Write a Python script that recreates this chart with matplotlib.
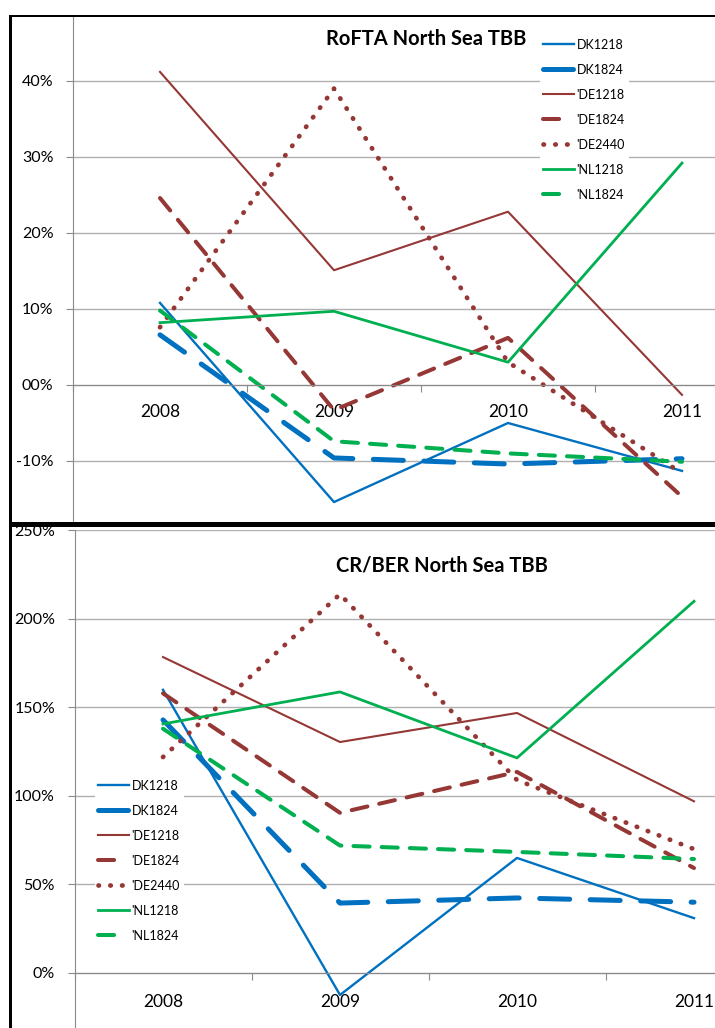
import matplotlib
matplotlib.use("Agg")
import matplotlib.pyplot as plt
from matplotlib.patches import Rectangle
from matplotlib.lines import Line2D

plt.rcParams['font.family'] = ['Lato', 'DejaVu Sans']

# ---------------- data ----------------
years = ["2008", "2009", "2010", "2011"]
series_names = ["DK1218", "DK1824", "'DE1218", "'DE1824", "'DE2440", "'NL1218", "'NL1824"]

rofta_dk1218 = [0.108, -0.154, -0.050, -0.113]
rofta_dk1824 = [0.066, -0.096, -0.104, -0.097]
rofta_de1218 = [0.412, 0.151, 0.228, -0.013]
rofta_de1824 = [0.246, -0.033, 0.062, -0.147]
rofta_de2440 = [0.076, 0.390, 0.030, -0.116]
rofta_nl1218 = [0.082, 0.097, 0.030, 0.292]
rofta_nl1824 = [0.098, -0.074, -0.090, -0.101]

crber_dk1218 = [1.60, -0.124, 0.65, 0.31]
crber_dk1824 = [1.43, 0.395, 0.424, 0.40]
crber_de1218 = [1.785, 1.305, 1.469, 0.97]
crber_de1824 = [1.58, 0.905, 1.136, 0.593]
crber_de2440 = [1.22, 2.14, 1.09, 0.70]
crber_nl1218 = [1.407, 1.588, 1.215, 2.10]
crber_nl1824 = [1.38, 0.72, 0.684, 0.644]

rofta_yticks = [-0.1, 0.0, 0.1, 0.2, 0.3, 0.4]
rofta_yticklabels = ["-10%", "00%", "10%", "20%", "30%", "40%"]
crber_yticks = [0.0, 0.5, 1.0, 1.5, 2.0, 2.5]
crber_yticklabels = ["0%", "50%", "100%", "150%", "200%", "250%"]

rofta_title = "RoFTA North Sea TBB"
crber_title = "CR/BER North Sea TBB"

# ---------------- styles ----------------
BLUE, RED, GREEN = "#0070C0", "#953735", "#00B050"
styles = [
    dict(color=BLUE, lw=1.7),
    dict(color=BLUE, lw=3.6, dashes=(6, 4.1), dash_capstyle='round'),
    dict(color=RED, lw=1.5),
    dict(color=RED, lw=2.9, dashes=(4, 3), dash_capstyle='round'),
    dict(color=RED, lw=3.4, dashes=(0.1, 2.4), dash_capstyle='round'),
    dict(color=GREEN, lw=2.0),
    dict(color=GREEN, lw=2.9, dashes=(4, 3), dash_capstyle='round'),
]
# legend swatches: same look, but the short dashes show as a single dash
legend_styles = [dict(st) for st in styles]
legend_styles[3]['dashes'] = (4, 4.5)
legend_styles[6]['dashes'] = (4, 4.5)

GRID = "#B0B0B0"
AXC = "#8A8A8A"

W, H = 715, 1028
fig = plt.figure(figsize=(W / 100, H / 100), dpi=100)
fig.patch.set_facecolor('white')


def fx(px):
    return px / W


def fy(py):
    return 1 - py / H


def make_axes(left, right, top, bottom, zero_px, px_per_unit):
    ax = fig.add_axes([fx(left), fy(bottom), (right - left) / W, (bottom - top) / H])
    ax.set_xlim(-0.5, len(years) - 0.5)
    ax.set_ylim((zero_px - bottom) / px_per_unit, (zero_px - top) / px_per_unit)
    return ax


def style_axes(ax, yticks, yticklabels, xpad):
    for s in ['top', 'right']:
        ax.spines[s].set_visible(False)
    ax.spines['left'].set_color(AXC)
    ax.spines['bottom'].set_color(AXC)
    ax.spines['bottom'].set_position(('data', 0))
    ax.set_xticks([i - 0.5 for i in range(len(years) + 1)])
    ax.set_xticklabels([])
    ax.set_xticks(range(len(years)), minor=True)
    ax.set_xticklabels(years, minor=True, fontsize=12.5)
    ax.tick_params(axis='x', which='major', length=5, color=AXC, direction='out')
    ax.tick_params(axis='x', which='minor', length=0, pad=xpad)
    ax.set_yticks(yticks)
    ax.set_yticklabels(yticklabels, fontsize=11.5)
    ax.tick_params(axis='y', length=5, color=AXC, pad=9)
    ax.grid(axis='y', color=GRID, lw=1)
    ax.set_axisbelow(True)


def draw_series(ax, data):
    for vals, st, name in zip(data, styles, series_names):
        ax.plot(range(len(years)), vals, label=name, **st)


def add_legend(ax, x_px, y_px):
    handles = [Line2D([], [], **st) for st in legend_styles]
    ax.legend(handles=handles, labels=series_names, loc='upper left',
              bbox_to_anchor=(fx(x_px), fy(y_px)),
              bbox_transform=fig.transFigure, frameon=True, fancybox=False,
              edgecolor='none', facecolor='white', framealpha=1, fontsize=9,
              handlelength=2.45, handletextpad=0.22, labelspacing=1.04,
              borderpad=0.3, borderaxespad=0)


# ---------------- top chart ----------------
ax1 = make_axes(73, 769, 15, 600, 385, 760)
ax1.set_zorder(0)
style_axes(ax1, rofta_yticks, rofta_yticklabels, 14)
draw_series(ax1, [rofta_dk1218, rofta_dk1824, rofta_de1218, rofta_de1824,
                  rofta_de2440, rofta_nl1218, rofta_nl1824])
add_legend(ax1, 539.5, 35)
fig.text(fx(426), fy(45), rofta_title, ha='center', va='baseline',
         fontsize=14.5, fontweight='bold', zorder=3)

# ---------------- bottom chart background ----------------
fig.add_artist(Rectangle((fx(10), 0), 1 - fx(10), fy(522), transform=fig.transFigure,
                         facecolor='white', edgecolor='none', zorder=0.5))

ax2 = make_axes(74.5, 782.5, 530.5, 1060, 973, 177)
ax2.set_zorder(1)
style_axes(ax2, crber_yticks, crber_yticklabels, 15)
draw_series(ax2, [crber_dk1218, crber_dk1824, crber_de1218, crber_de1824,
                  crber_de2440, crber_nl1218, crber_nl1824])
add_legend(ax2, 94.5, 776)
fig.text(fx(441.5), fy(571), crber_title, ha='center', va='baseline',
         fontsize=14.5, fontweight='bold', zorder=3)

# ---------------- chart frames ----------------
fig.add_artist(Rectangle((fx(9), fy(17)), 1 - fx(9), 2 / H, transform=fig.transFigure,
                         facecolor='black', edgecolor='none', zorder=5))
fig.add_artist(Rectangle((fx(9), fy(522)), 2.5 / W, (522 - 15) / H, transform=fig.transFigure,
                         facecolor='black', edgecolor='none', zorder=5))
fig.add_artist(Rectangle((fx(9), fy(527)), 1 - fx(9), 5 / H, transform=fig.transFigure,
                         facecolor='black', edgecolor='none', zorder=5))
fig.add_artist(Rectangle((fx(9), 0), 3 / W, fy(522), transform=fig.transFigure,
                         facecolor='black', edgecolor='none', zorder=5))

fig.savefig("out.png", dpi=100)
